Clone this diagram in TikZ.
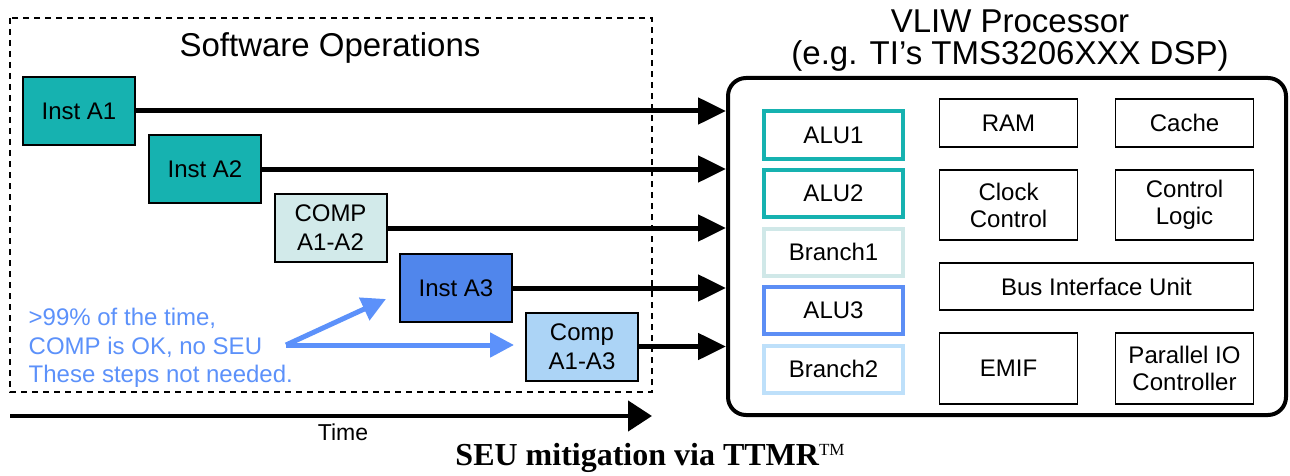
\documentclass[tikz,border=0pt]{standalone}
\usepackage{fontspec}
\setmainfont{Liberation Sans}
\newfontfamily\capfont{Liberation Serif}
\usetikzlibrary{arrows.meta}

\definecolor{instteal}{RGB}{22,178,176}
\definecolor{compteal}{RGB}{210,234,234}
\definecolor{instblue}{RGB}{80,134,236}
\definecolor{compblue}{RGB}{172,212,246}
\definecolor{brteal}{RGB}{208,232,232}
\definecolor{bralublue}{RGB}{92,142,245}
\definecolor{brblue}{RGB}{190,224,250}
\definecolor{noteblue}{RGB}{92,145,250}

\tikzset{every picture/.style={line width=0.75pt}}

\begin{document}
\begin{tikzpicture}[x=1pt,y=1pt,yscale=-1,xscale=1,
  opbox/.style={draw=black, line width=2pt, minimum width=112pt, minimum height=68pt, inner sep=0pt, align=center, font=\fontsize{24}{29}\selectfont},
  unitbox/.style={draw=black, line width=1.5pt, minimum width=138pt, inner sep=0pt, align=center, font=\fontsize{24}{27}\selectfont},
  alubox/.style={draw=#1, line width=4pt, minimum width=139pt, minimum height=47pt, inner sep=0pt, font=\fontsize{24}{27}\selectfont},
  feed/.style={line width=5pt, -{Triangle[length=28pt,width=26pt]}},
  hint/.style={draw=noteblue, line width=5pt, -{Triangle[length=24pt,width=24pt]}}]
	\useasboundingbox (0,0) rectangle (1290,476);

	% software side
	\draw [line width=1.5pt, dash pattern={on 6pt off 5pt}] (10,18) rectangle (652,392);
	\node (swtitle) at (330,48) {\fontsize{33}{38}\selectfont Software Operations};

	\node [opbox, fill=instteal] (a1) at (79,111) {Inst A1};
	\node [opbox, fill=instteal] (a2) at (205,169) {Inst A2};
	\node [opbox, fill=compteal] (c12) at (330.5,228) {COMP\\A1-A2};
	\node [opbox, fill=instblue] (a3) at (456,288) {Inst A3};
	\node [opbox, fill=compblue] (c13) at (582,346.5) {Comp\\A1-A3};

	% note
	\node [anchor=west, align=left, text=noteblue, font=\fontsize{24}{28.5}\selectfont] (note) at (25,348) {>99\% of the time,\\COMP is OK, no SEU\\These steps not needed.};
	\coordinate (fork) at (286,345);
	\draw [hint] (fork) -- ([xshift=-13pt,yshift=-24pt]a3.south west);
	\draw [hint] (fork) -- ([xshift=-11pt]fork -| c13.west);

	% time axis
	\coordinate (t0) at (10,416);
	\coordinate (t1) at (652,416);
	\draw [line width=4.5pt, -{Triangle[length=24pt,width=30pt]}] (t0) -- (t1);
	\node (time) at (343,432) {\fontsize{23}{26}\selectfont Time};

	% processor
	\node [align=center, font=\fontsize{33}{32}\selectfont] (ptitle) at (1010,41) {VLIW Processor\\(e.g. TI’s TMS3206XXX DSP)};
	\node [draw=black, line width=4pt, rounded corners=18pt, minimum width=558pt, minimum height=337pt] (proc) at (1007,246.5) {};

	\node [alubox=instteal] (alu1) at (833.5,135) {ALU1};
	\node [alubox=instteal] (alu2) at (833.5,193) {ALU2};
	\node [alubox=brteal] (br1) at (833.5,252) {Branch1};
	\node [alubox=bralublue] (alu3) at (833.5,310.5) {ALU3};
	\node [alubox=brblue] (br2) at (833.5,369) {Branch2};

	\node [unitbox, minimum height=48pt] (ram) at (1008.5,123) {RAM};
	\node [unitbox, minimum height=48pt] (cache) at (1184.5,123) {Cache};
	\node [unitbox, minimum height=70pt] (clk) at (1008.5,205) {Clock\\Control};
	\node [unitbox, minimum height=70pt] (ctl) at (1184.5,205) {Control\\Logic};
	\node [unitbox, minimum width=314pt, minimum height=47pt] (biu) at (1096.5,286.5) {Bus Interface Unit};
	\node [unitbox, minimum height=71pt] (emif) at (1008.5,368.5) {EMIF};
	\node [unitbox, minimum height=71pt] (pio) at (1184.5,368.5) {Parallel IO\\Controller};

	% issue lines
	\foreach \op in {a1,a2,c12,a3,c13}
		\draw [feed] (\op.east) -- (\op.east -| proc.west);

	% caption
	\node (caption) at (650,458) {\capfont\bfseries\fontsize{32}{36}\selectfont SEU mitigation via TTMR\raisebox{10pt}{\mdseries\fontsize{17}{18}\selectfont TM}};
\end{tikzpicture}
\end{document}
